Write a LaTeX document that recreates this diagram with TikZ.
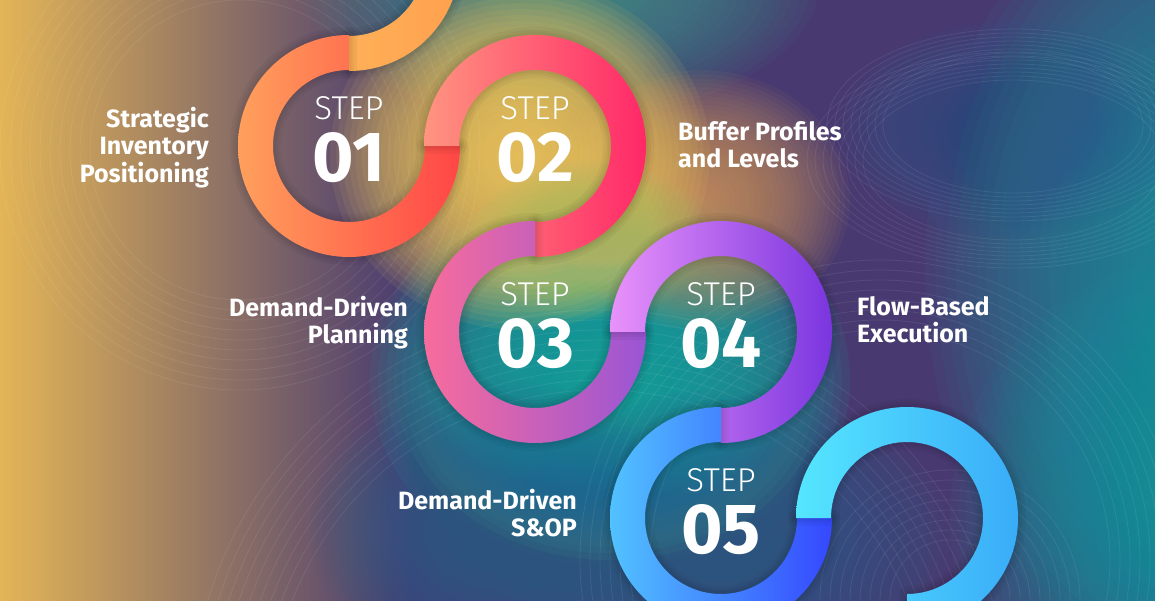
\documentclass[tikz,border=0pt]{standalone}
\usepackage{fontspec}
\setmainfont{Fira Sans}
\newfontfamily\thinfont{Fira Sans Light}
\usetikzlibrary{positioning}

\definecolor{bgbase}{HTML}{483A70}
\definecolor{bgyellow}{HTML}{F6C454}
\definecolor{glowyellow}{HTML}{F2CA58}
\definecolor{glowamber}{HTML}{D49A5C}
\definecolor{glowgreen}{HTML}{A8C46C}
\definecolor{glowteal}{HTML}{14A39E}
\definecolor{topteal}{HTML}{3FA391}
\definecolor{edgeteal}{HTML}{159EA6}
\definecolor{glowblue}{HTML}{2C6690}
\definecolor{deepblue}{HTML}{2A5C92}

\definecolor{ringAl}{HTML}{FFC060}\definecolor{ringAr}{HTML}{FFA04F}
\definecolor{ringBl}{HTML}{FFA05C}\definecolor{ringBr}{HTML}{FF4646}
\definecolor{ringCl}{HTML}{FF9480}\definecolor{ringCr}{HTML}{FF2868}
\definecolor{ringDl}{HTML}{F86C9C}\definecolor{ringDr}{HTML}{9A55D5}
\definecolor{ringEl}{HTML}{E892FA}\definecolor{ringEr}{HTML}{7A35DF}
\definecolor{ringFl}{HTML}{52C2FF}\definecolor{ringFr}{HTML}{3548FF}
\definecolor{ringGl}{HTML}{55E6FF}\definecolor{ringGr}{HTML}{3AACF8}

% soft glow from stacked see-through ellipses: x, y, x radius, y radius, colour, opacity per layer
\newcommand{\glowat}[6]{%
  \foreach \k in {1,...,30}
    \fill[#5, opacity=#6] (#1,#2) ellipse[x radius=#3*\k/30, y radius=#4*\k/30];}
% one 270 degree piece of a ring: centre, start angle, end angle
\newcommand{\ringpath}[3]{(#1) ++(#2:111) arc[start angle=#2, end angle=#3, radius=111] -- ++(#3:-35) arc[start angle=#3, end angle=#2, radius=76] -- cycle}
\newcommand{\ringpart}[5]{%
  \foreach \w in {16,10,5}
    \draw[black, opacity=0.04, line width=\w pt, line join=round] \ringpath{#1}{#2}{#3};
  \shade[left color=#4, right color=#5] \ringpath{#1}{#2}{#3};}

\begin{document}
\begin{tikzpicture}[x=1pt, y=1pt]
            \tikzstyle{bgline}=[white, opacity=0.08, line width=0.8pt]
            \tikzstyle{stepword}=[white, inner sep=0pt, font=\thinfont\fontsize{33}{33}\selectfont]
            \tikzstyle{stepnum}=[white, inner sep=0pt, font=\bfseries\fontsize{71}{71}\selectfont]
            \tikzstyle{lablft}=[white, inner sep=0pt, anchor=north east, align=right, font=\bfseries\fontsize{25}{27.5}\selectfont]
            \tikzstyle{labrgt}=[white, inner sep=0pt, anchor=north west, align=left, font=\bfseries\fontsize{25}{27.5}\selectfont]
            \useasboundingbox (0,0) rectangle (1155,600);
            \clip (0,0) rectangle (1155,600);
            % background colour
            \fill[bgbase] (-10,-10) rectangle (1165,610);
            \shade[left color=bgyellow, right color=bgbase] (-50,-10) rectangle (410,610);
            \glowat{560}{620}{260}{140}{topteal}{0.05}
            \glowat{1235}{330}{310}{420}{edgeteal}{0.06}
            \glowat{1190}{80}{240}{260}{edgeteal}{0.05}
            \glowat{1010}{470}{170}{110}{deepblue}{0.04}
            \glowat{610}{220}{240}{200}{glowteal}{0.1}
            \glowat{500}{70}{190}{150}{glowblue}{0.05}
            \glowat{720}{60}{230}{150}{glowblue}{0.05}
            \glowat{700}{400}{150}{130}{glowamber}{0.06}
            \glowat{520}{445}{190}{175}{glowyellow}{0.09}
            \glowat{590}{360}{120}{80}{glowgreen}{0.05}
            % thin circle lines
            \foreach \r in {150,160,...,240}
                \draw[bgline] (240,450) circle (\r);
            \foreach \r in {330,340,...,410}
                \draw[bgline] (600,-120) circle (\r);
            \foreach \i in {0,...,7}
                \draw[bgline] (1013,475) ellipse[x radius=130+8*\i, y radius=68+4*\i];
            \foreach \i in {0,...,7}
                \draw[bgline] (1013,440) ellipse[x radius=150+8*\i, y radius=80+4*\i];
            \foreach \r in {60,70,...,130}
                \draw[bgline] (950,0) circle (\r);
            \foreach \r in {230,240,...,300}
                \draw[bgline] (880,40) circle (\r);
            % ring centres
            \coordinate (c0) at (349,640);
            \coordinate (c1) at (349,454);
            \coordinate (c2) at (535,454);
            \coordinate (c3) at (535,268);
            \coordinate (c4) at (721,268);
            \coordinate (c5) at (721,82);
            \coordinate (c6) at (907,82);
            % rings
            \ringpart{c0}{180}{-90}{ringAl}{ringAr}
            \ringpart{c1}{90}{360}{ringBl}{ringBr}
            \ringpart{c2}{180}{-90}{ringCl}{ringCr}
            \ringpart{c3}{90}{360}{ringDl}{ringDr}
            \ringpart{c4}{180}{-90}{ringEl}{ringEr}
            \ringpart{c5}{90}{360}{ringFl}{ringFr}
            \ringpart{c6}{180}{-90}{ringGl}{ringGr}
            % step numbers
            \node[stepword] (st1) at ([yshift=38pt]c1) {STEP};
            \node[stepnum] (nr1) at ([yshift=-12pt]c1) {01};
            \node[stepword] (st2) at ([yshift=38pt]c2) {STEP};
            \node[stepnum] (nr2) at ([yshift=-12pt]c2) {02};
            \node[stepword] (st3) at ([yshift=38pt]c3) {STEP};
            \node[stepnum] (nr3) at ([yshift=-12pt]c3) {03};
            \node[stepword] (st4) at ([yshift=38pt]c4) {STEP};
            \node[stepnum] (nr4) at ([yshift=-12pt]c4) {04};
            \node[stepword] (st5) at ([yshift=38pt]c5) {STEP};
            \node[stepnum] (nr5) at ([yshift=-12pt]c5) {05};
            % labels
            \node[lablft] (lab1) at (209,493) {Strategic\\Inventory\\Positioning};
            \node[labrgt] (lab2) at (678,479) {Buffer Profiles\\and Levels};
            \node[lablft] (lab3) at (408,304) {Demand-Driven\\Planning};
            \node[labrgt] (lab4) at (857,304) {Flow-Based\\Execution};
            \node[lablft] (lab5) at (577,111) {Demand-Driven\\S\&OP};
\end{tikzpicture}
\end{document}
